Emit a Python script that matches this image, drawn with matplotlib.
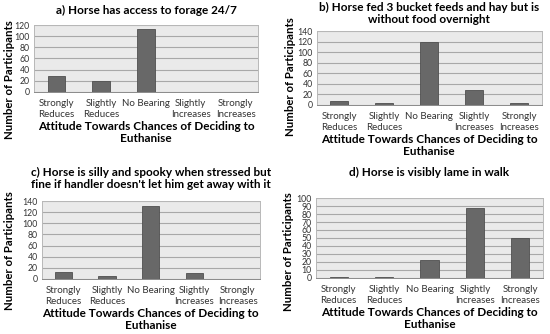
import matplotlib.pyplot as plt
import numpy as np

# データ
categories = ["Strongly\nReduces", "Slightly\nReduces", "No Bearing",
              "Slightly\nIncreases", "Strongly\nIncreases"]
vals_a = [29, 20, 113, 0, 0]
vals_b = [7, 3, 119, 29, 3]
vals_c = [13, 6, 131, 10, 0]
vals_d = [1, 1, 23, 87, 50]

titles = ["a) Horse has access to forage 24/7",
          "b) Horse fed 3 bucket feeds and hay but is\nwithout food overnight",
          "c) Horse is silly and spooky when stressed but\nfine if handler doesn't let him get away with it",
          "d) Horse is visibly lame in walk"]
yticks = [np.arange(0, 121, 20), np.arange(0, 141, 20),
          np.arange(0, 141, 20), np.arange(0, 101, 10)]

X_LABEL = "Attitude Towards Chances of Deciding to\nEuthanise"
Y_LABEL = "Number of Participants"

plt.rcParams['font.family'] = ['Lato', 'DejaVu Sans']

fig = plt.figure(figsize=(5.5, 3.34), dpi=100)

# 各パネルの位置 (left, bottom, width, height)
rects = [(0.062, 0.725, 0.407, 0.200),
         (0.576, 0.686, 0.409, 0.221),
         (0.076, 0.165, 0.396, 0.233),
         (0.5745, 0.168, 0.413, 0.239)]
title_y = [0.985, 0.995, 0.50, 0.50]
# y軸ラベルの位置 (軸座標)
ylabel_pos = [(-0.11, 0.18), (-0.115, 0.38), (-0.147, 0.36), (-0.12, 0.325)]

for rect, vals, title, yt, ty, yp in zip(rects, [vals_a, vals_b, vals_c, vals_d],
                                         titles, yticks, title_y, ylabel_pos):
    ax = fig.add_axes(rect)
    ax.set_facecolor('#eaeaea')
    x = np.arange(len(categories))
    ax.bar(x, vals, width=0.4, color='#686868', edgecolor='#4f4f4f',
           linewidth=0.6, zorder=3)
    ax.set_ylim(yt[0], yt[-1])
    ax.set_yticks(yt)
    ax.set_xlim(-0.5, len(categories) - 0.5)
    ax.set_xticks(x)
    ax.set_xticklabels(categories, fontsize=7, color='#333333',
                       linespacing=1.35)
    ax.tick_params(axis='y', labelsize=6.3, colors='#333333', length=0, pad=3)
    ax.tick_params(axis='x', length=0, pad=5)
    ax.grid(axis='y', color='#a8a8a8', linewidth=0.8, zorder=0)
    for s in ax.spines.values():
        s.set_color('#b8b8b8')
        s.set_linewidth(0.7)
    ax.spines['bottom'].set_color('#8a8a8a')
    ax.set_xlabel(X_LABEL, fontsize=8.5, fontweight='bold', labelpad=1,
                  linespacing=1.1)
    ax.set_ylabel(Y_LABEL, fontsize=8.2, fontweight='bold', va='center')
    ax.yaxis.set_label_coords(*yp)
    cx = rect[0] + rect[2] / 2
    fig.text(cx, ty, title, ha='center', va='top', fontsize=8.5,
             fontweight='bold', linespacing=1.1)

fig.savefig('out.png', dpi=100)
